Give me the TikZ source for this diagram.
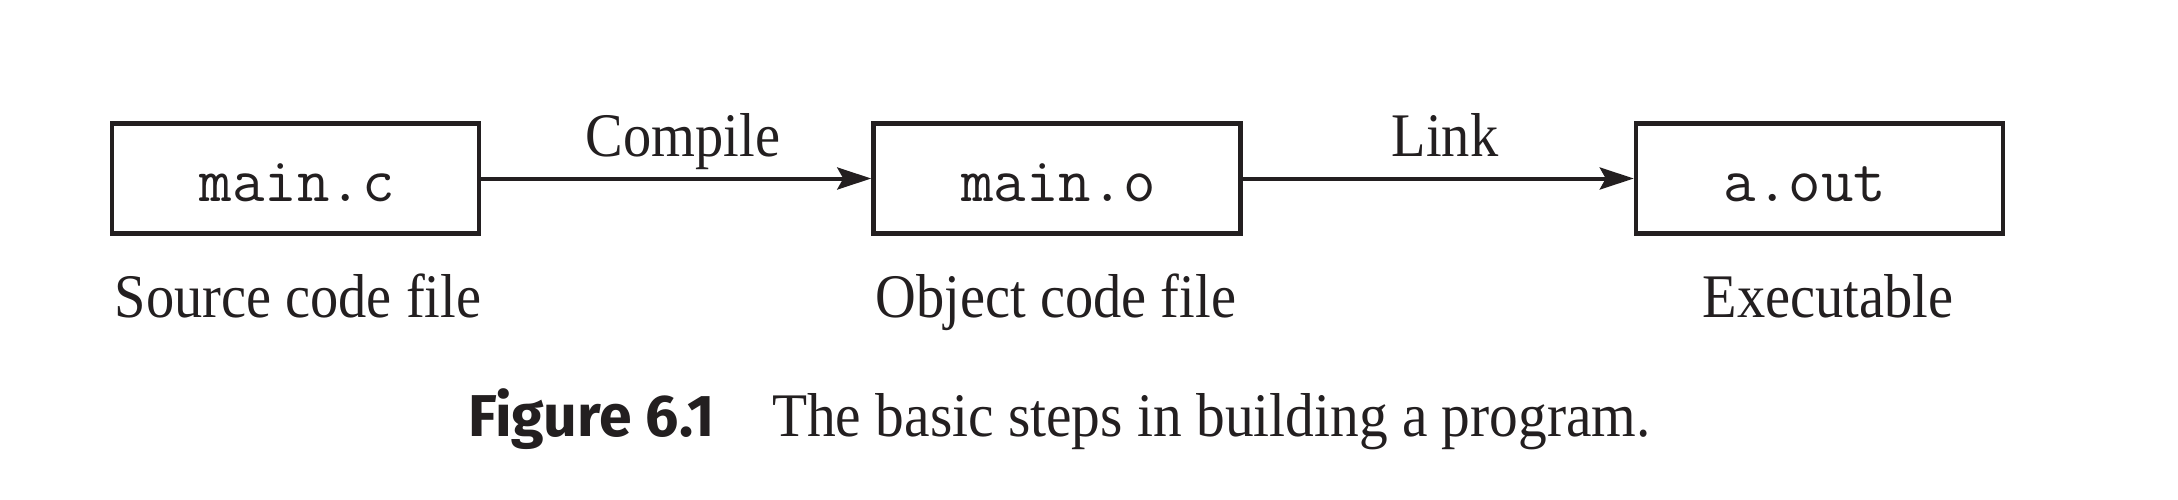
\documentclass[tikz,border=0pt]{standalone}
\usepackage{fontspec}
\setmainfont{Liberation Serif}[FakeStretch=0.91]
\newfontfamily\capfont{Fira Sans}
\newfontfamily\capserif{Liberation Serif}[FakeStretch=0.926]
\usetikzlibrary{arrows.meta,calc}
\definecolor{ink}{HTML}{231F20}
\tikzset{
  filebox/.style={draw=ink, line width=4.5pt, minimum width=367pt, minimum height=110pt, inner sep=0pt},
  filename/.style={anchor=base west, inner sep=0pt, font=\ttfamily\fontsize{63}{68}\selectfont, text=ink},
  steplabel/.style={anchor=base, inner sep=0pt, font=\fontsize{62}{70}\selectfont, text=ink},
  arr/.style={draw=ink, line width=4pt, -{Stealth[length=34pt,width=22pt,inset=6pt]}},
  captext/.style={anchor=base west, inner sep=0pt, text=ink}
}
\begin{document}
\begin{tikzpicture}[x=1pt,y=-1pt]
\useasboundingbox (0,0) rectangle (2178,500);
\node[filebox] (b1) at (295.5,178.5) {};
\node[filebox] (b2) at (1057,178.5) {};
\node[filebox] (b3) at (1819.5,178.5) {};
\node[filename] (t1) at ($(b1.west)+(90,22.5)$) {main.c};
\node[filename] (t2) at ($(b2.west)+(90,22.5)$) {main.o};
\node[filename] (t3) at ($(b3.west)+(90,22.5)$) {a.out};
\draw[arr] (b1.east) -- (b2.west);
\draw[arr] (b2.east) -- (b3.west);
\node[steplabel] (c1) at (683,156) {Compile};
\node[steplabel] (c2) at (1445,156) {Link};
\node[steplabel] (l1) at (298,317) {Source code file};
\node[steplabel] (l2) at (1056,317) {Object code file};
\node[steplabel] (l3) at (1828,317) {Executable};
\node[captext, font=\capfont\bfseries\fontsize{59}{63}\selectfont] (f1) at (468,436) {Figure 6.1};
\node[captext, font=\capserif\fontsize{62}{70}\selectfont] (f2) at (772,436) {The basic steps in building a program.};
\end{tikzpicture}
\end{document}
